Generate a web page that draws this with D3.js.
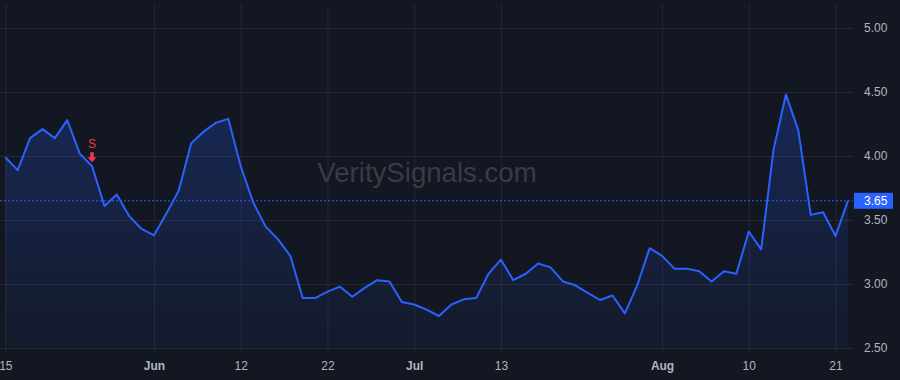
<!DOCTYPE html>
<html>
<head>
<meta charset="utf-8">
<script src="https://d3js.org/d3.v7.min.js"></script>
<style>
body{ margin:0; background:#131722; }
svg{ display:block; font-family:"Liberation Sans", Arial, sans-serif; }
</style>
</head>
<body>
<script>
const width = 900;
const height = 380;

// trading days, 2023
const dates = [
  '2023-05-15','2023-05-16','2023-05-17','2023-05-18','2023-05-19','2023-05-22','2023-05-23','2023-05-24',
  '2023-05-25','2023-05-26','2023-05-30','2023-05-31',
  '2023-06-01','2023-06-02','2023-06-05','2023-06-06','2023-06-07','2023-06-08','2023-06-09','2023-06-12',
  '2023-06-13','2023-06-14','2023-06-15','2023-06-16','2023-06-20','2023-06-21','2023-06-22','2023-06-23',
  '2023-06-26','2023-06-27','2023-06-28','2023-06-29','2023-06-30',
  '2023-07-03','2023-07-05','2023-07-06','2023-07-07','2023-07-10','2023-07-11','2023-07-12','2023-07-13',
  '2023-07-14','2023-07-17','2023-07-18','2023-07-19','2023-07-20','2023-07-21','2023-07-24','2023-07-25',
  '2023-07-26','2023-07-27','2023-07-28','2023-07-31',
  '2023-08-01','2023-08-02','2023-08-03','2023-08-04','2023-08-07','2023-08-08','2023-08-09','2023-08-10',
  '2023-08-11','2023-08-14','2023-08-15','2023-08-16','2023-08-17','2023-08-18','2023-08-21','2023-08-22'
];

const prices = [
  3.99, 3.89, 4.14, 4.21, 4.14, 4.28, 4.02, 3.92,
  3.61, 3.70, 3.53, 3.43,
  3.38, 3.55, 3.73, 4.10, 4.19, 4.26, 4.29, 3.92,
  3.64, 3.45, 3.35, 3.22, 2.89, 2.89, 2.94, 2.98,
  2.90, 2.97, 3.03, 3.02, 2.86,
  2.84, 2.80, 2.75, 2.84, 2.88, 2.89, 3.08, 3.19,
  3.03, 3.08, 3.16, 3.13, 3.02, 2.99, 2.93, 2.875,
  2.91, 2.77, 2.99, 3.28,
  3.22, 3.12, 3.12, 3.10, 3.02, 3.10, 3.08, 3.41,
  3.27, 4.05, 4.48, 4.20, 3.54, 3.56, 3.375, 3.65
];

const xTicks = ['2023-05-15','2023-06-01','2023-06-12','2023-06-22','2023-07-03','2023-07-13','2023-08-01','2023-08-10','2023-08-21'];
const xTickLabels = ['15','Jun','12','22','Jul','13','Aug','10','21'];
const monthTicks = ['Jun','Jul','Aug'];
const yTicks = [2.5, 3.0, 3.5, 4.0, 4.5, 5.0];

const signals = [{date:'2023-05-24', label:'S'}];
const lastPrice = prices[prices.length-1];

const plotRight = 853;
const plotBottom = 348;

const x = d3.scalePoint()
    .domain(dates)
    .range([5.3, 847.9]);

const y = d3.scaleLinear()
    .domain([2.5, 5.0])
    .range([plotBottom, 28]);

const svg = d3.select('body')
  .append('svg')
    .attr('width', width)
    .attr('height', height);

svg.append('rect')
    .attr('width', width)
    .attr('height', height)
    .attr('fill', '#131722');

const grad = svg.append('defs')
  .append('linearGradient')
    .attr('id','areaGrad')
    .attr('gradientUnits','userSpaceOnUse')
    .attr('x1',0).attr('x2',0)
    .attr('y1',y(4.5)).attr('y2',plotBottom);
grad.append('stop').attr('offset','0%').attr('stop-color','#2962ff').attr('stop-opacity',0.24);
grad.append('stop').attr('offset','100%').attr('stop-color','#2962ff').attr('stop-opacity',0.04);

// grid
svg.append('g')
    .attr('transform', `translate(0,${plotBottom})`)
    .call(d3.axisBottom(x).tickValues(xTicks).tickSize(-plotBottom).tickFormat(''))
    .call(g=>g.select('.domain').remove())
    .call(g=>g.selectAll('line').attr('stroke','#242833').attr('y2', 4 - plotBottom).attr('y1', 4));

svg.append('g')
    .call(d3.axisRight(y).tickValues(yTicks).tickSize(plotRight).tickFormat(''))
    .call(g=>g.select('.domain').remove())
    .call(g=>g.selectAll('line').attr('stroke','#242833'));

// watermark
svg.append('text')
    .attr('x', 427)
    .attr('y', 182)
    .attr('text-anchor','middle')
    .attr('font-size', 27.6)
    .attr('fill', '#383c47')
    .text('VeritySignals.com');

// area + line
svg.append('path')
    .datum(prices)
    .attr('fill','url(#areaGrad)')
    .attr('d', d3.area()
        .x((d,i)=>x(dates[i]))
        .y0(plotBottom)
        .y1(d=>y(d)));

svg.append('path')
    .datum(prices)
    .attr('fill','none')
    .attr('stroke','#2962ff')
    .attr('stroke-width',2)
    .attr('stroke-linejoin','round')
    .attr('d', d3.line()
        .x((d,i)=>x(dates[i]))
        .y(d=>y(d)));

// last price line
svg.append('line')
    .attr('x1',0).attr('x2',plotRight)
    .attr('y1',y(lastPrice)).attr('y2',y(lastPrice))
    .attr('stroke','#2962ff')
    .attr('stroke-width',1)
    .attr('stroke-dasharray','2,2');

// signal markers
const sig = svg.selectAll('.sig')
  .data(signals)
    .enter()
  .append('g')
    .attr('transform', d=>`translate(${x(d.date)},${y(prices[dates.indexOf(d.date)]) - 4})`);
sig.append('path')
    .attr('d','M-1.8,-10 L1.8,-10 L1.8,-5 L4.5,-5 L0,0 L-4.5,-5 L-1.8,-5 Z')
    .attr('fill','#f23645');
sig.append('text')
    .attr('y',-14)
    .attr('text-anchor','middle')
    .attr('font-size',12)
    .attr('fill','#f23645')
    .text(d=>d.label);

// y axis labels
svg.append('g')
    .attr('transform', `translate(${plotRight},0)`)
    .call(d3.axisRight(y).tickValues(yTicks).tickSize(0).tickPadding(11).tickFormat(d3.format('.2f')))
    .call(g=>g.select('.domain').remove())
    .call(g=>g.selectAll('text').attr('fill','#b2b5be').attr('font-size',12).attr('font-family','"Liberation Sans", Arial, sans-serif'));

// x axis labels
svg.append('g')
    .attr('transform', `translate(0,${plotBottom})`)
    .call(d3.axisBottom(x).tickValues(xTicks).tickSize(0).tickPadding(13)
        .tickFormat(d=>xTickLabels[xTicks.indexOf(d)]))
    .call(g=>g.select('.domain').remove())
    .call(g=>g.selectAll('text')
        .attr('fill','#b2b5be')
        .attr('font-size',12)
        .attr('font-family','"Liberation Sans", Arial, sans-serif')
        .attr('font-weight', function(){ return monthTicks.includes(this.textContent) ? 'bold' : 'normal'; }));

// last price tag
const tag = svg.append('g')
    .attr('transform', `translate(${plotRight+1},${y(lastPrice)})`);
tag.append('rect')
    .attr('x',0).attr('y',-8)
    .attr('width',39).attr('height',16)
    .attr('fill','#2962ff');
tag.append('text')
    .attr('x',10).attr('y',4.5)
    .attr('font-size',12)
    .attr('fill','#ffffff')
    .text(d3.format('.2f')(lastPrice));
</script>
</body>
</html>
